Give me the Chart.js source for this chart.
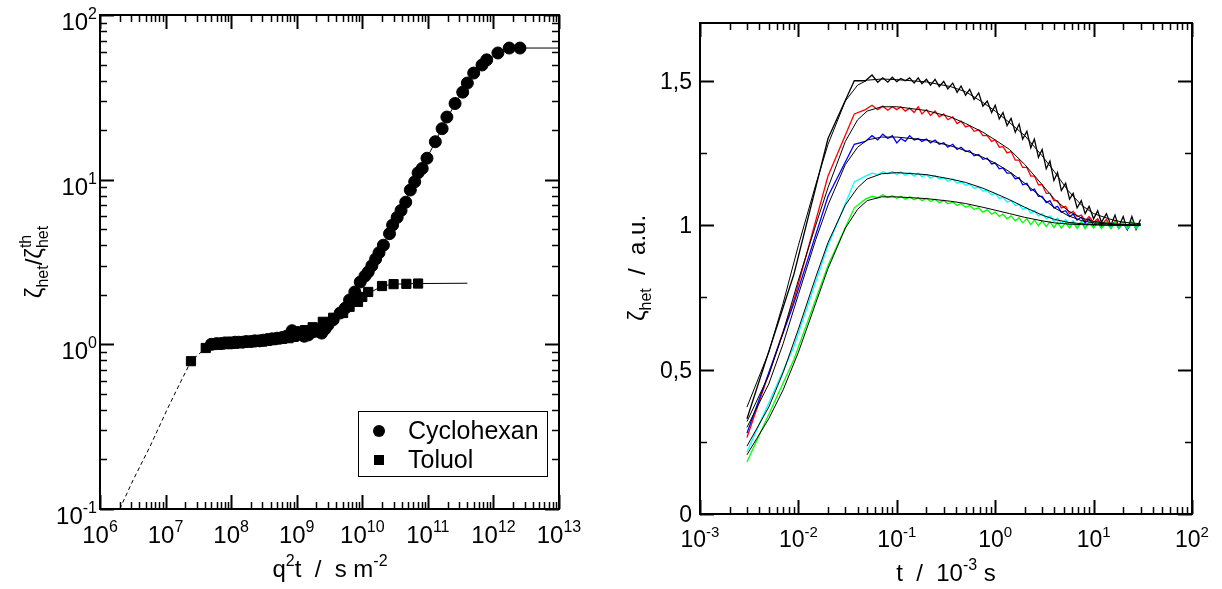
<!DOCTYPE html>
<html>
<head>
<meta charset="utf-8">
<script src="https://cdn.jsdelivr.net/npm/chart.js@4.4.0/dist/chart.umd.min.js"></script>
<style>
body { margin:0; background:#fff; }
#left { position:absolute; left:0; top:0; }
#right { position:absolute; left:600px; top:0; }
</style>
</head>
<body>
<canvas id="left" width="600" height="589"></canvas>
<canvas id="right" width="622" height="589"></canvas>
<script>
// LEFT: q^2 t scaling
const cycloX = [5e7,6e7,7e7,8e7,9e7,1e8,1.15e8,1.3e8,1.5e8,1.7e8,2e8,2.3e8,2.7e8,3.1e8,3.6e8,4.2e8,5e8,6e8,7e8,8.5e8,1.05e9,1.3e9,1.5e9,1.75e9,2.1e9,2.4e9,2.7e9,3.0e9,3.6e9,4.6e9,5.5e9,6.4e9,7.7e9,9.3e9,1.1e10,1.23e10,1.4e10,1.6e10,1.8e10,2.1e10,2.6e10,2.9e10,3.4e10,3.9e10,4.6e10,5.4e10,6.3e10,7.1e10,8.2e10,9.7e10,1.3e11,1.65e11,1.95e11,2.6e11,3.4e11,4.0e11,5.0e11,6.7e11,7.9e11,1.17e12,1.74e12,2.54e12];
const cycloY = [1.0,1.01,1.01,1.02,1.02,1.02,1.03,1.03,1.03,1.04,1.04,1.05,1.05,1.06,1.07,1.08,1.09,1.1,1.12,1.21,1.18,1.12,1.14,1.19,1.2,1.17,1.24,1.31,1.41,1.55,1.66,1.86,2.08,2.39,2.6,2.75,3.0,3.3,3.6,4.0,4.7,5.3,5.9,6.5,7.3,8.65,9.7,11,11.7,13.5,17,20.4,24,29,34,38.6,44.4,49.7,53.4,58.8,63,63];
const toluX = [2.44e7,4.1e7,5e7,6e7,7e7,8e7,9.5e7,1.1e8,1.3e8,1.5e8,1.8e8,2.1e8,2.5e8,3e8,3.5e8,4.2e8,5e8,6e8,7.5e8,9e8,1.1e9,1.34e9,1.75e9,2.5e9,3.6e9,5.1e9,6.4e9,8.6e9,1.0e10,1.23e10,2.0e10,3.0e10,4.7e10,7.1e10];
const toluY = [0.79,0.95,0.99,1.0,1.0,1.01,1.01,1.01,1.02,1.02,1.03,1.03,1.04,1.04,1.05,1.06,1.07,1.08,1.09,1.11,1.13,1.22,1.27,1.37,1.45,1.55,1.69,1.81,1.94,2.08,2.26,2.32,2.33,2.34];
const cycloFitX = [5e7,3e8,8.5e8,2e9,3e9,5e9,8e9,1.2e10,2e10,4e10,7e10,1.2e11,2e11,4e11,7e11,1.2e12,2.5e12,1e13];
const cycloFitY = [1.0,1.07,1.13,1.2,1.3,1.6,2.1,2.75,3.9,6.7,10.5,16,24,38.6,51,59,63,63];
const toluFitX = [5e7,5e8,1.3e9,2.5e9,5e9,1e10,2e10,3e10,7e10,4e11];
const toluFitY = [1.0,1.07,1.2,1.37,1.55,1.94,2.26,2.32,2.34,2.35];
const dashX = [2e6,3.2e6,5.8e6,1.05e7,1.55e7,2.44e7,4.1e7];
const dashY = [0.1,0.15,0.24,0.40,0.55,0.79,0.95];
const leftXTicks = [1e6,1e7,1e8,1e9,1e10,1e11,1e12,1e13];
const leftYTicks = [0.1,1,10,100];

// RIGHT: zeta_het(t)
const tData = [0.003,0.009,0.02,0.037,0.048,0.056,0.064,0.072,0.081,0.09,0.1,0.11,0.122,0.135,0.15,0.165,0.18,0.2,0.22,0.245,0.27,0.3,0.33,0.37,0.41,0.45,0.5,0.55,0.61,0.68,0.75,0.83,0.92,1.0,1.1,1.2,1.32,1.45,1.6,1.75,1.9,2.1,2.3,2.5,2.75,3.0,3.3,3.6,3.95,4.3,4.7,5.2,5.7,6.2,6.8,7.5,8.2,9.0,10,11,12,13.5,15,16.5,18,20,22,24.5,27,30];
const blackData = [0.33,0.83,1.30,1.50,1.50,1.52,1.495,1.51,1.495,1.512,1.497,1.508,1.50,1.51,1.492,1.51,1.49,1.505,1.485,1.505,1.48,1.498,1.472,1.492,1.46,1.482,1.45,1.47,1.435,1.458,1.412,1.43,1.39,1.415,1.368,1.39,1.345,1.37,1.322,1.35,1.298,1.325,1.268,1.298,1.235,1.262,1.195,1.222,1.155,1.182,1.12,1.145,1.09,1.11,1.06,1.085,1.04,1.065,1.022,1.05,1.01,1.04,1.0,1.035,0.995,1.03,0.985,1.03,0.985,1.02];
const redData = [0.265,0.74,1.17,1.385,1.40,1.415,1.40,1.412,1.398,1.41,1.40,1.41,1.395,1.405,1.39,1.41,1.385,1.40,1.38,1.395,1.375,1.385,1.365,1.375,1.352,1.36,1.34,1.345,1.325,1.33,1.31,1.31,1.29,1.295,1.27,1.272,1.25,1.255,1.225,1.225,1.20,1.20,1.17,1.17,1.14,1.14,1.11,1.11,1.085,1.085,1.06,1.065,1.04,1.048,1.03,1.035,1.015,1.03,1.01,1.022,1.0,1.02,0.995,1.015,0.995,1.012,0.99,1.01,0.99,1.005];
const blueData = [0.28,0.73,1.10,1.28,1.29,1.31,1.295,1.315,1.30,1.31,1.285,1.30,1.29,1.31,1.295,1.30,1.29,1.298,1.285,1.295,1.28,1.285,1.27,1.28,1.262,1.27,1.255,1.258,1.24,1.245,1.228,1.232,1.212,1.215,1.195,1.198,1.18,1.18,1.16,1.165,1.14,1.145,1.12,1.125,1.10,1.10,1.078,1.085,1.06,1.065,1.045,1.05,1.03,1.038,1.018,1.028,1.008,1.022,1.0,1.015,0.995,1.012,0.99,1.01,0.988,1.008,0.985,1.008,0.99,1.005];
const cyanData = [0.215,0.58,0.93,1.15,1.17,1.18,1.175,1.185,1.178,1.186,1.175,1.185,1.172,1.182,1.17,1.18,1.168,1.175,1.163,1.172,1.16,1.165,1.152,1.16,1.145,1.15,1.138,1.142,1.128,1.132,1.118,1.12,1.105,1.11,1.092,1.096,1.08,1.085,1.068,1.072,1.055,1.06,1.042,1.05,1.032,1.04,1.022,1.032,1.012,1.025,1.005,1.02,1.0,1.016,0.996,1.014,0.994,1.012,0.992,1.012,0.99,1.012,0.99,1.01,0.99,1.012,0.988,1.01,0.99,1.005];
const greenData = [0.18,0.535,0.86,1.06,1.09,1.10,1.095,1.105,1.096,1.102,1.093,1.10,1.09,1.098,1.088,1.096,1.085,1.093,1.082,1.09,1.078,1.086,1.074,1.08,1.068,1.075,1.062,1.068,1.055,1.06,1.045,1.053,1.038,1.045,1.03,1.038,1.022,1.032,1.015,1.026,1.008,1.022,1.002,1.018,0.998,1.015,0.995,1.012,0.992,1.01,0.99,1.01,0.99,1.01,0.988,1.01,0.988,1.01,0.99,1.012,0.988,1.01,0.988,1.012,0.99,1.01,0.988,1.012,0.99,1.005];
const tFit = [0.003,0.005,0.007,0.01,0.015,0.02,0.03,0.04,0.05,0.07,0.1,0.2,0.35,0.5,0.75,1,1.4,2,3,4,5.5,7.5,10,15,20,30];
const blackFit = [0.37,0.56,0.73,0.93,1.14,1.28,1.43,1.485,1.502,1.506,1.504,1.496,1.48,1.462,1.425,1.395,1.355,1.31,1.24,1.185,1.12,1.07,1.04,1.02,1.01,1.005];
const redFit = [0.32,0.48,0.63,0.81,1.0,1.13,1.29,1.365,1.395,1.41,1.41,1.397,1.375,1.352,1.322,1.295,1.262,1.21,1.14,1.09,1.05,1.025,1.013,1.005,1.002,1.0];
const blueFit = [0.30,0.45,0.59,0.76,0.95,1.07,1.21,1.27,1.295,1.305,1.305,1.295,1.275,1.258,1.235,1.215,1.185,1.145,1.095,1.06,1.033,1.016,1.008,1.003,1.001,1.0];
const cyanFit = [0.235,0.37,0.49,0.64,0.82,0.94,1.07,1.13,1.16,1.178,1.182,1.175,1.16,1.148,1.128,1.11,1.088,1.062,1.035,1.02,1.01,1.005,1.002,1.0,1.0,1.0];
const greenFit = [0.205,0.33,0.43,0.56,0.73,0.85,0.99,1.055,1.085,1.098,1.098,1.092,1.083,1.075,1.062,1.052,1.04,1.027,1.015,1.008,1.004,1.002,1.001,1.0,1.0,1.0];
const rightXTicks = [1e-3,1e-2,1e-1,1,10,100];
const rightYTicks = [0,0.5,1,1.5];
const rightYMinor = [0.25,0.75,1.25];

const FONT = '"Liberation Sans", Arial, sans-serif';
const pts = (xs, ys) => xs.map((x, i) => ({x: x, y: ys[i]}));

// parts: [text, size, dy, stackWithNext]
function rich(ctx, parts, x, y, align) {
    let w = 0, hold = 0;
    parts.forEach(p => {
        ctx.font = p[1] + 'px ' + FONT;
        const pw = ctx.measureText(p[0]).width;
        if (p[3]) { hold = pw; return; }
        w += Math.max(pw, hold); hold = 0;
    });
    let cx = align === 'center' ? x - w / 2 : align === 'right' ? x - w : x;
    ctx.textAlign = 'left';
    ctx.textBaseline = 'alphabetic';
    hold = 0;
    parts.forEach(p => {
        ctx.font = p[1] + 'px ' + FONT;
        const pw = ctx.measureText(p[0]).width;
        ctx.fillText(p[0], cx, y + (p[2] || 0));
        if (p[3]) { hold = pw; return; }
        cx += Math.max(pw, hold); hold = 0;
    });
}

function logMinors(min, max) {
    const out = [];
    for (let d = Math.floor(Math.log10(min)); d < Math.log10(max); d++) {
        for (let k = 2; k <= 9; k++) {
            const v = k * Math.pow(10, d);
            if (v > min && v < max) out.push(v);
        }
    }
    return out;
}

const pow10Label = (v, s, e) => [['10', s, 0], [String(Math.round(Math.log10(v))), e, -Math.round(s * 0.45)]];

const axesFrame = {
    id: 'axesFrame',
    afterDraw(chart, args, o) {
        const ctx = chart.ctx, a = chart.chartArea;
        const x = chart.scales.x, y = chart.scales.y;
        ctx.save();
        ctx.strokeStyle = '#000';
        ctx.fillStyle = '#000';
        const seg = (x1, y1, x2, y2, lw) => {
            ctx.lineWidth = lw;
            ctx.beginPath(); ctx.moveTo(x1, y1); ctx.lineTo(x2, y2); ctx.stroke();
        };
        const xt = (v, len, lw) => {
            const p = Math.round(x.getPixelForValue(v)) + 0.5;
            seg(p, a.bottom, p, a.bottom - len, lw);
            seg(p, a.top, p, a.top + len, lw);
        };
        const yt = (v, len, lw) => {
            const p = Math.round(y.getPixelForValue(v)) + 0.5;
            seg(a.left, p, a.left + len, p, lw);
            seg(a.right, p, a.right - len, p, lw);
        };
        o.xMinor.forEach(v => xt(v, 7, 1.5));
        o.yMinor.forEach(v => yt(v, 7, 1.5));
        o.xMajor.forEach(v => xt(v, 14, 2));
        o.yMajor.forEach(v => yt(v, 14, 2));
        ctx.lineWidth = 2;
        ctx.strokeRect(a.left, a.top, a.right - a.left, a.bottom - a.top);

        o.xMajor.forEach(v => rich(ctx, o.xLabel(v), x.getPixelForValue(v), o.xLabelY, 'center'));
        o.yMajor.forEach(v => rich(ctx, o.yLabel(v), o.yLabelX, y.getPixelForValue(v) + o.yLabelDy, 'right'));

        rich(ctx, o.xTitle, o.xTitlePos[0], o.xTitlePos[1], 'center');
        ctx.save();
        ctx.translate(o.yTitlePos[0], o.yTitlePos[1]);
        ctx.rotate(-Math.PI / 2);
        rich(ctx, o.yTitle, 0, 0, 'center');
        ctx.restore();

        if (o.legend) {
            const L = o.legend;
            ctx.lineWidth = 1;
            ctx.fillStyle = '#fff';
            ctx.fillRect(L.x, L.y, L.w, L.h);
            ctx.strokeRect(L.x + 0.5, L.y + 0.5, L.w, L.h);
            ctx.fillStyle = '#000';
            L.items.forEach((it, i) => {
                const cy = L.y + L.first + i * L.gap;
                if (it.style === 'circle') {
                    ctx.beginPath(); ctx.arc(L.x + 21, cy, 6, 0, Math.PI * 2); ctx.fill();
                } else {
                    ctx.fillRect(L.x + 16, cy - 5, 10, 10);
                }
                rich(ctx, [[it.text, 25, 0]], L.x + 50, cy + 8, 'left');
            });
        }
        ctx.restore();
    }
};

new Chart(document.getElementById('left'), {
    type: 'scatter',
    data: {
        datasets: [
            {label: 'Cyclohexan', data: pts(cycloX, cycloY), showLine: false, pointStyle: 'circle', pointRadius: 6,
             pointBackgroundColor: '#000', pointBorderColor: '#000', pointBorderWidth: 1},
            {label: 'Toluol', data: pts(toluX, toluY), showLine: false, pointStyle: 'rect', pointRadius: 6.5,
             pointBackgroundColor: '#000', pointBorderColor: '#000', pointBorderWidth: 1},
            {label: 'fit C', data: pts(cycloFitX, cycloFitY), showLine: true, pointRadius: 0, borderColor: '#000', borderWidth: 1},
            {label: 'fit T', data: pts(toluFitX, toluFitY), showLine: true, pointRadius: 0, borderColor: '#000', borderWidth: 1},
            {label: 'dash', data: pts(dashX, dashY), showLine: true, pointRadius: 0, borderColor: '#000', borderWidth: 1, borderDash: [4, 3]}
        ]
    },
    options: {
        responsive: false,
        animation: false,
        layout: {padding: {left: 100, top: 15, right: 41, bottom: 80}},
        elements: {line: {tension: 0}},
        scales: {
            x: {type: 'logarithmic', min: 1e6, max: 1e13, display: false},
            y: {type: 'logarithmic', min: 0.1, max: 100, display: false}
        },
        plugins: {
            legend: {display: false},
            tooltip: {enabled: false},
            axesFrame: {
                xMajor: leftXTicks, xMinor: logMinors(1e6, 1e13),
                yMajor: leftYTicks, yMinor: logMinors(0.1, 100),
                xLabel: v => pow10Label(v, 24, 16), xLabelY: 543,
                yLabel: v => pow10Label(v, 24, 16), yLabelX: 97, yLabelDy: 15,
                xTitle: [['q', 24, 0], ['2', 16, -11], ['t  /  s m', 24, 0], ['-2', 16, -11]], xTitlePos: [330, 577],
                yTitle: [['ζ', 24, 0], ['het', 16, 6], ['/', 24, 0], ['ζ', 24, 0], ['het', 16, 6, true], ['th', 16, -11]],
                yTitlePos: [42, 262],
                legend: {x: 358, y: 411, w: 189, h: 65, first: 20, gap: 29,
                         items: [{style: 'circle', text: 'Cyclohexan'}, {style: 'rect', text: 'Toluol'}]}
            }
        }
    },
    plugins: [axesFrame]
});

const fitLine = (ys) => ({data: pts(tFit, ys), showLine: true, pointRadius: 0, borderColor: '#000', borderWidth: 1});
const dataLine = (ys, col) => ({data: pts(tData, ys), showLine: true, pointRadius: 0, borderColor: col, borderWidth: 1.3});

// right canvas sits at page x = 600; coordinates below are canvas-local
new Chart(document.getElementById('right'), {
    type: 'scatter',
    data: {
        datasets: [
            fitLine(blackFit), fitLine(redFit), fitLine(blueFit), fitLine(cyanFit), fitLine(greenFit),
            dataLine(greenData, '#00ff00'), dataLine(cyanData, '#00ffff'), dataLine(blueData, '#0000ff'),
            dataLine(redData, '#ff0000'), dataLine(blackData, '#000000')
        ]
    },
    options: {
        responsive: false,
        animation: false,
        layout: {padding: {left: 100, top: 23, right: 30, bottom: 75}},
        elements: {line: {tension: 0}},
        scales: {
            x: {type: 'logarithmic', min: 1e-3, max: 100, display: false},
            y: {type: 'linear', min: 0, max: 1.7, display: false}
        },
        plugins: {
            legend: {display: false},
            tooltip: {enabled: false},
            axesFrame: {
                xMajor: rightXTicks, xMinor: logMinors(1e-3, 100),
                yMajor: rightYTicks, yMinor: rightYMinor,
                xLabel: v => pow10Label(v, 23, 15), xLabelY: 547,
                yLabel: v => [[String(v).replace('.', ','), 23, 0]], yLabelX: 92, yLabelDy: 8,
                xTitle: [['t  /  10', 24, 0], ['-3', 16, -11], [' s', 24, 0]], xTitlePos: [346, 581],
                yTitle: [['ζ', 24, 0], ['het', 16, 6], ['  /  a.u.', 24, 0]],
                yTitlePos: [45, 268]
            }
        }
    },
    plugins: [axesFrame]
});
</script>
</body>
</html>
